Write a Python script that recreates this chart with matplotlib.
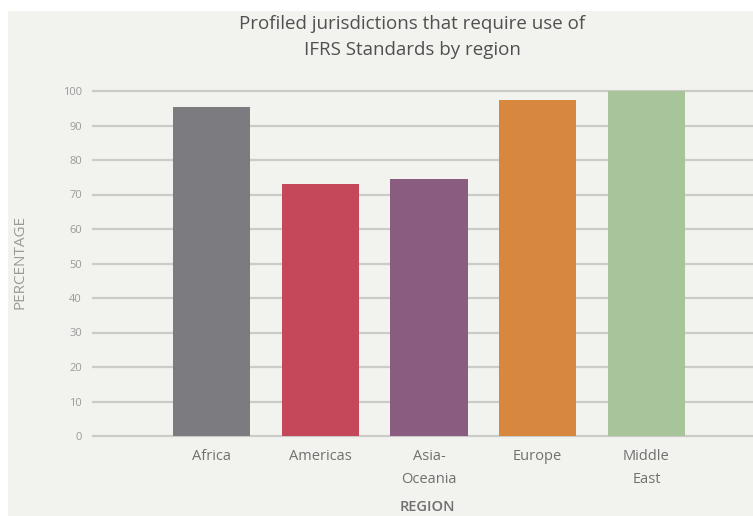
import matplotlib.pyplot as plt
from matplotlib.patches import Rectangle

# data
regions = ['Africa', 'Americas', 'Asia-\nOceania', 'Europe', 'Middle\nEast']
percent = [95.3, 73.0, 74.5, 97.5, 100.0]
colors = ['#7b7b80', '#c4485a', '#8a5c7f', '#d8873f', '#a8c49b']
yticks = [0, 10, 20, 30, 40, 50, 60, 70, 80, 90, 100]

plt.rcParams['font.family'] = ['Open Sans', 'DejaVu Sans']

fig = plt.figure(figsize=(7.53, 5.16), dpi=100, facecolor='white')

# light panel behind everything
fig.patches.append(Rectangle((8 / 753, 0), 1, 1 - 11 / 516, transform=fig.transFigure,
                             facecolor='#f2f2ee', edgecolor='none', zorder=-5))

ax = fig.add_axes([93 / 753, 1 - 436 / 516, 1 - 93 / 753, 345 / 516])
ax.set_facecolor('none')

x = range(len(regions))
ax.bar(x, percent, width=0.71, color=colors, zorder=3)

ax.set_ylim(0, 100)
ax.set_xlim(-1.09, 4.98)
ax.set_yticks(yticks)
for t in yticks:
    ax.axhline(t, color='#cbcbc8', lw=1.6, zorder=1, clip_on=False)

ax.set_xticks(list(x))
ax.set_xticklabels(regions, fontsize=10.5, color='#707070', linespacing=1.75)
ax.tick_params(axis='x', length=0, pad=9)
ax.tick_params(axis='y', length=0, pad=8, labelsize=8, labelcolor='#9a9a9a')
for s in ax.spines.values():
    s.set_visible(False)

fig.text(412 / 753, 1 - 24 / 516, 'Profiled jurisdictions that require use of',
         ha='center', va='center', fontsize=13.5, color='#505050')
fig.text(412 / 753, 1 - 50 / 516, 'IFRS Standards by region',
         ha='center', va='center', fontsize=13.5, color='#505050')
fig.text(20 / 753, 1 - 262 / 516, 'PERCENTAGE', rotation=90, ha='center', va='center',
         fontsize=11, color='#9a9a9a')
fig.text(427 / 753, 1 - 507 / 516, 'REGION', ha='center', va='center',
         fontsize=10.5, color='#707070', fontweight='semibold')

fig.savefig('out.png', dpi=100, facecolor=fig.get_facecolor())
